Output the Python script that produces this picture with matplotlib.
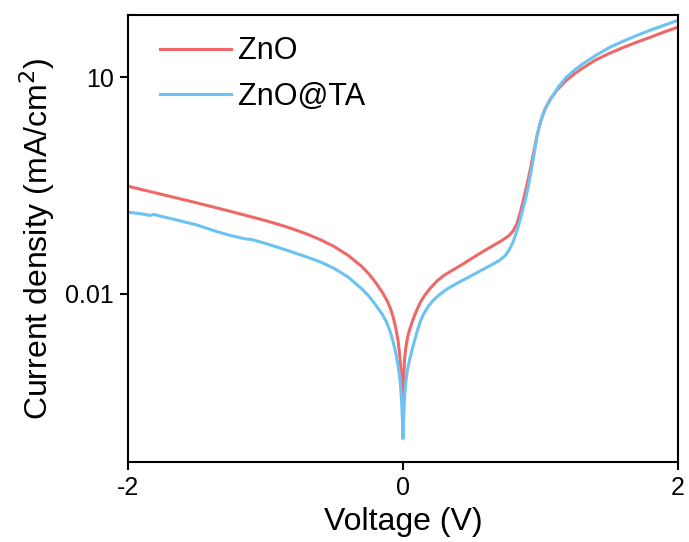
import matplotlib
matplotlib.use("Agg")
import matplotlib.pyplot as plt
from matplotlib.ticker import FixedLocator, FixedFormatter, NullLocator

# J-V data (V, mA/cm^2)
v_zno = [-2.0, -1.75, -1.5, -1.25, -1.0, -0.85, -0.7, -0.6, -0.5, -0.4,
         -0.3, -0.25, -0.2, -0.15, -0.116, -0.09, -0.07, -0.05, -0.035, -0.022,
         -0.012, -0.005, 0.0, 0.005, 0.012, 0.022, 0.035, 0.05, 0.07, 0.1,
         0.13, 0.16, 0.2, 0.25, 0.3, 0.36, 0.43, 0.5, 0.58, 0.65,
         0.72, 0.77, 0.8, 0.83, 0.85, 0.87, 0.89, 0.91, 0.93, 0.95,
         0.975, 1.0, 1.03, 1.07, 1.12, 1.18, 1.25, 1.31, 1.4, 1.5,
         1.6, 1.7, 1.8, 1.9, 2.0]
j_zno = [0.309, 0.237, 0.182, 0.138, 0.1035, 0.0851, 0.0676, 0.0562, 0.0452, 0.0343,
         0.024, 0.0191, 0.0145, 0.0105, 0.0081, 0.0062, 0.0047, 0.0032, 0.0022, 0.0013,
         0.00076, 0.00045, 0.00028, 0.0007, 0.0013, 0.0019, 0.0026, 0.0033, 0.0043, 0.006,
         0.0079, 0.0097, 0.0121, 0.0153, 0.0182, 0.0213, 0.0255, 0.031, 0.0385, 0.046,
         0.055, 0.064, 0.074, 0.095, 0.128, 0.18, 0.26, 0.38, 0.58, 0.9,
         1.55, 2.4, 3.5, 4.9, 6.6, 8.7, 11.2, 13.4, 17.2, 21.2,
         25.5, 30.3, 35.5, 42.0, 49.0]

v_ta = [-2.0, -1.9, -1.84, -1.81, -1.78, -1.65, -1.5, -1.35, -1.25, -1.15,
        -1.1, -1.0, -0.85, -0.7, -0.6, -0.5, -0.4, -0.3, -0.25, -0.2,
        -0.15, -0.12, -0.09, -0.07, -0.05, -0.035, -0.022, -0.012, -0.005, 0.0,
        0.005, 0.012, 0.022, 0.035, 0.051, 0.073, 0.1, 0.124, 0.15, 0.18,
        0.218, 0.26, 0.3, 0.342, 0.4, 0.47, 0.538, 0.6, 0.66, 0.705,
        0.74, 0.77, 0.8, 0.82, 0.845, 0.865, 0.89, 0.91, 0.93, 0.95,
        0.975, 1.0, 1.03, 1.07, 1.13, 1.19, 1.25, 1.31, 1.4, 1.5,
        1.6, 1.7, 1.8, 1.9, 2.0]
j_ta = [0.135, 0.128, 0.122, 0.126, 0.121, 0.106, 0.09, 0.0725, 0.064, 0.058,
        0.0565, 0.050, 0.0405, 0.0325, 0.0277, 0.0225, 0.0172, 0.0118, 0.0094, 0.0071,
        0.0052, 0.0041, 0.0029, 0.0021, 0.00145, 0.001, 0.00065, 0.00038, 0.0002, 0.0001,
        0.0002, 0.0004, 0.00065, 0.00095, 0.0013, 0.0019, 0.0029, 0.0041, 0.0053, 0.0066,
        0.0081, 0.0096, 0.011, 0.0124, 0.0143, 0.0168, 0.0197, 0.0228, 0.0262, 0.0295,
        0.0335, 0.040, 0.052, 0.067, 0.095, 0.132, 0.2, 0.30, 0.48, 0.78,
        1.55, 2.4, 3.5, 4.8, 7.3, 10.0, 12.6, 15.3, 19.8, 25.5,
        31.2, 37.5, 44.5, 52.0, 61.0]

x_ticks = [-2, 0, 2]
y_ticks = [0.01, 10]
y_tick_labels = ["0.01", "10"]

plt.rcParams['font.family'] = ['Liberation Sans', 'DejaVu Sans']
plt.rcParams['axes.unicode_minus'] = False

fig = plt.figure(figsize=(6.89, 5.42), dpi=100)
ax = fig.add_axes([0.1858, 0.1476, 0.7982, 0.8247])

ax.plot(v_zno, j_zno, color='#EF6868', lw=2.2, label='ZnO')
ax.plot(v_ta, j_ta, color='#6CC2F0', lw=2.2, label='ZnO@TA')

ax.set_yscale('log')
ax.set_xlim(-2, 2)
ax.set_ylim(4.75e-5, 72)

ax.set_xticks(x_ticks)
ax.set_xticklabels([str(t) for t in x_ticks])
ax.yaxis.set_major_locator(FixedLocator(y_ticks))
ax.yaxis.set_major_formatter(FixedFormatter(y_tick_labels))
ax.yaxis.set_minor_locator(NullLocator())

for s in ax.spines.values():
    s.set_linewidth(1.5)
ax.tick_params(axis='both', which='major', direction='out', length=6, width=1.5,
               labelsize=18, pad=4)

ax.set_xlabel('Voltage (V)', fontsize=23, labelpad=5)
ax.set_ylabel('Current density (mA/cm$^{2}$)', fontsize=23, labelpad=6)

ax.legend(loc='upper left', frameon=False, fontsize=22, handlelength=2.3,
          handletextpad=0.25, labelspacing=0.5, borderaxespad=0.3,
          bbox_to_anchor=(0.02, 1.0))

fig.savefig('out.png', dpi=100)
